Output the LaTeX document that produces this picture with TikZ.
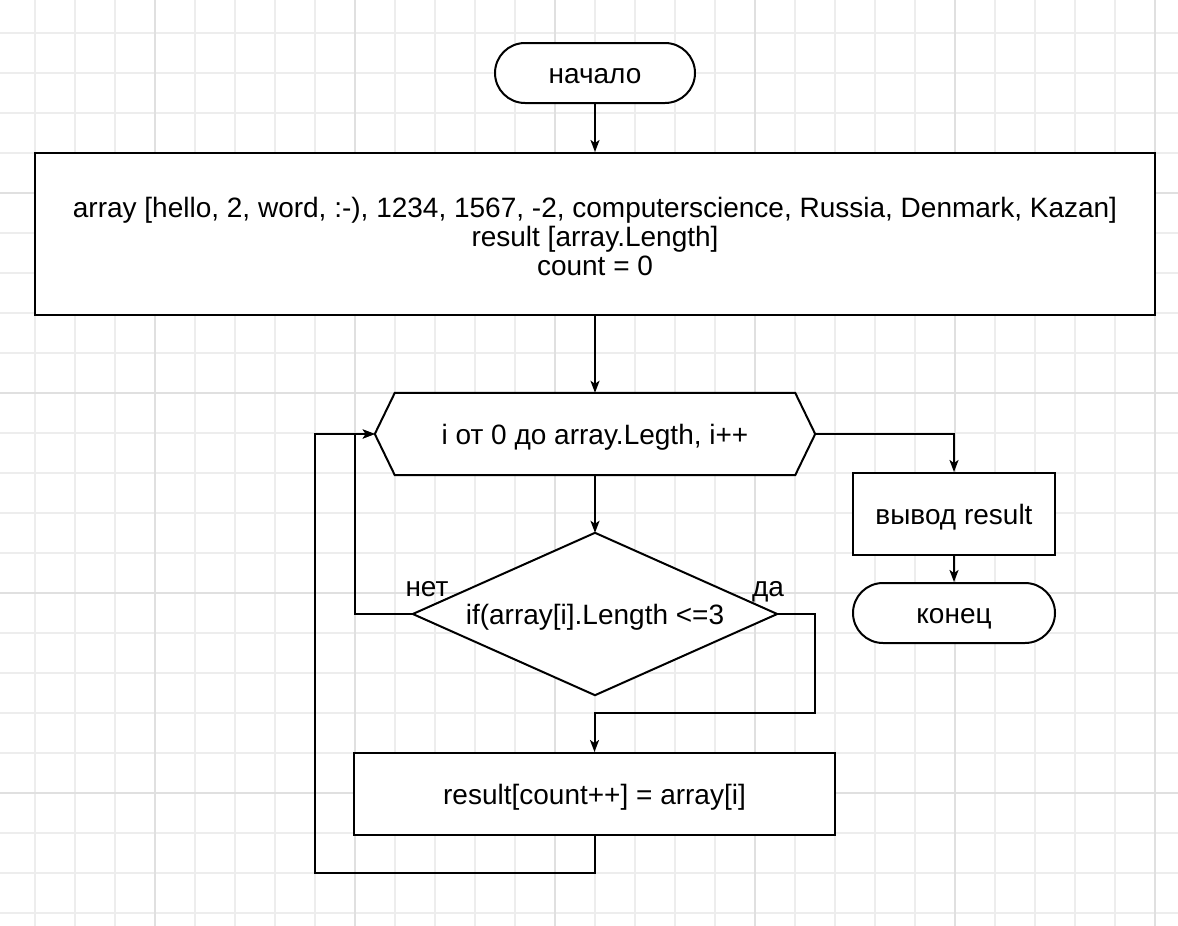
\documentclass[tikz,border=0pt]{standalone}
\usepackage{fontspec}
\setmainfont{Liberation Sans}
\usetikzlibrary{arrows.meta}
\begin{document}
\begin{tikzpicture}[x=1pt,y=-1pt,
  every node/.style={font=\fontsize{28}{29}\selectfont, inner sep=0pt},
  txt/.style={text height=26pt, text depth=6pt},
  box/.style={draw=black, line width=2pt, fill=white},
  term/.style={box, txt, rectangle, rounded corners=30pt, minimum width=200pt, minimum height=60pt},
  proc/.style={box, rectangle, align=center},
  ghost/.style={draw=none, rectangle},
  conn/.style={draw=black, line width=2pt, -{Stealth[length=12pt,width=9pt,inset=3pt]}},
  lbl/.style={txt}
]
\useasboundingbox (0,0) rectangle (1178,926);
\fill[white] (0,0) rectangle (1178,926);
% grid
\foreach \x in {-5,35,...,1175} \draw[color=black!7, line width=1.2pt] (\x,0) -- (\x,926);
\foreach \y in {-7,33,...,926} \draw[color=black!7, line width=1.2pt] (0,\y) -- (1178,\y);
\foreach \x in {155,355,...,1175} \draw[color=black!12, line width=1.2pt] (\x,0) -- (\x,926);
\foreach \y in {193,393,...,926} \draw[color=black!12, line width=1.2pt] (0,\y) -- (1178,\y);

% nodes
\node[term] (start) at (595,73) {начало};
\node[proc, minimum width=1120pt, minimum height=162pt] (init) at (595,234)
  {\rule{0pt}{25pt}array [hello, 2, word, :-), 1234, 1567, -2, computerscience, Russia, Denmark, Kazan]\\
   result [array.Length]\\
   count = 0};
\node[ghost, minimum width=440pt, minimum height=82pt] (loop) at (595,434) {};
\path[box] (loop.west) -- ([xshift=20pt]loop.north west) -- ([xshift=-20pt]loop.north east)
  -- (loop.east) -- ([xshift=-20pt]loop.south east) -- ([xshift=20pt]loop.south west) -- cycle;
\node[txt] (looptext) at (loop.center) {i от 0 до array.Legth, i++};

\node[ghost, minimum width=364pt, minimum height=162pt] (cond) at (595,614) {};
\path[box] (cond.north) -- (cond.east) -- (cond.south) -- (cond.west) -- cycle;
\node[txt] (condtext) at (cond.center) {if(array[i].Length <=3};

\node[proc, txt, minimum width=481pt, minimum height=82pt] (body) at (594.5,794) {result[count++] = array[i]};
\node[proc, txt, minimum width=202pt, minimum height=82pt] (out) at (954,514) {вывод result};
\node[term, minimum width=202pt] (end) at (954,613) {конец};

% coordinates for bends
\coordinate (nx) at (355,614);
\coordinate (yx) at (815,713);
\coordinate (back) at (315,873);

% connectors
\draw[conn] (start) -- (init);
\draw[conn] (init) -- (loop.north);
\draw[conn] (loop.south) -- (cond.north);
\draw[conn] (cond.west) -- (nx) |- (loop.west);
\draw[conn] (cond.east) -| (yx) -| (body.north);
\draw[conn] (body.south) |- (back) |- (loop.west);
\draw[conn] (loop.east) -| (out.north);
\draw[conn] (out) -- (end);

% labels
\node[lbl] (no) at (427,586) {нет};
\node[lbl] (yes) at (768,586) {да};
\end{tikzpicture}
\end{document}
